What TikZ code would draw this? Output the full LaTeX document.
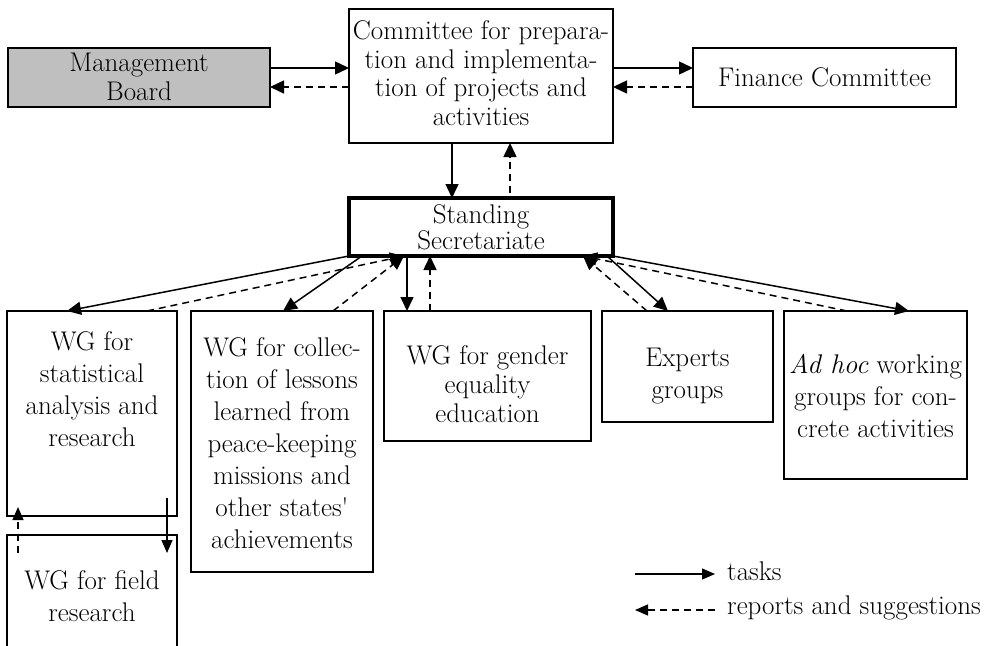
\documentclass[tikz,border=0pt]{standalone}
\usepackage{fontspec}
\usetikzlibrary{arrows.meta,calc}
\definecolor{mbgray}{RGB}{191,191,191}
\begin{document}
\begin{tikzpicture}[x=1pt,y=-1pt,
  box/.style={draw, line width=1.5pt, inner sep=0pt, outer sep=0pt, rectangle},
  txt/.style={align=center, inner sep=0pt, font=\fontsize{27}{32}\selectfont},
  tsk/.style={line width=1.5pt, -{Triangle[length=14pt,width=13pt]}},
  rep/.style={line width=1.5pt, dash pattern=on 7pt off 5pt, -{Triangle[length=14pt,width=13pt]}},
  tskl/.style={line width=1.2pt, -{Triangle[length=13pt,width=11pt]}},
  repl/.style={line width=1.2pt, dash pattern=on 7pt off 5pt, -{Triangle[length=13pt,width=11pt]}},
]
\useasboundingbox (0,0) rectangle (984,645);
% boxes
\node[box, fill=mbgray, minimum width=262pt, minimum height=59pt] (mb) at (139,77.5) {};
\node[box, minimum width=264pt, minimum height=134pt] (comm) at (481,76) {};
\node[box, minimum width=263pt, minimum height=59pt] (fin) at (824.5,77.5) {};
\node[box, line width=3.5pt, minimum width=264pt, minimum height=58pt] (std) at (481,227) {};
\node[box, minimum width=170pt, minimum height=205pt] (wgs) at (92,413.5) {};
\node[box, minimum width=170pt, minimum height=130pt] (wgf) at (92,600) {};
\node[box, minimum width=182pt, minimum height=261pt] (wgc) at (282,441.5) {};
\node[box, minimum width=207pt, minimum height=130pt] (wgg) at (487.5,376) {};
\node[box, minimum width=171pt, minimum height=111pt] (exp) at (687.5,366.5) {};
\node[box, minimum width=183pt, minimum height=168pt] (adh) at (875.5,395) {};
% texts
\node[txt, font=\fontsize{27}{29}\selectfont] (mbt) at (139,77) {Management\\Board};
\node[txt, font=\fontsize{27}{28.5}\selectfont] (commt) at (481,73) {Committee for prepara-\\tion and implementa-\\tion of projects and\\activities};
\node[txt] (fint) at (824.5,77) {Finance Committee};
\node[txt, font=\fontsize{27}{26}\selectfont] (stdt) at (481,227) {Standing\\Secretariate};
\node[txt] (wgst) at (92,389) {WG for\\statistical\\analysis and\\research};
\node[txt] (wgft) at (92,596) {WG for field\\research};
\node[txt] (wgct) at (282,443) {WG for collec-\\tion of lessons\\learned from\\peace-keeping\\missions and\\other states\textquotesingle\\achievements};
\node[txt, font=\fontsize{27}{29}\selectfont] (wggt) at (487.5,384) {WG for gender\\equality\\education};
\node[txt] (expt) at (687.5,376) {Experts\\groups};
\node[txt] (adht) at (875.5,396) {\textit{Ad hoc} working\\groups for con-\\crete activities};
% helper rows/columns
\coordinate (r1) at (0,68);
\coordinate (r2) at (0,87);
\coordinate (c1) at (452,0);
\coordinate (c2) at (510,0);
% top connectors
\draw[tsk] (mb.east |- r1) -- (comm.west |- r1);
\draw[rep] (comm.west |- r2) -- (mb.east |- r2);
\draw[tsk] (comm.east |- r1) -- (fin.west |- r1);
\draw[rep] (fin.west |- r2) -- (comm.east |- r2);
\draw[tsk] (comm.south -| c1) -- (std.north -| c1);
\draw[rep] ([yshift=5pt]std.north -| c2) -- (comm.south -| c2);
% secretariate to working groups
\draw[tsk] (std.south west) -- ([xshift=60pt]wgs.north west);
\draw[rep] ([xshift=140pt]wgs.north west) -- ([xshift=55pt]std.south west);
\draw[tsk] ([xshift=13pt]std.south west) -- ([xshift=92pt]wgc.north west);
\draw[rep] ([xshift=142pt]wgc.north west) -- ([xshift=55pt]std.south west);
\draw[tsk] ([xshift=58pt]std.south west) -- ([xshift=23pt]wgg.north west);
\draw[rep] ([xshift=46pt]wgg.north west) -- ([xshift=81pt]std.south west);
\draw[tsk] ([xshift=-6pt]std.south east) -- ([xshift=66pt]exp.north west);
\draw[rep] ([xshift=45pt]exp.north west) -- ([xshift=-30pt]std.south east);
\draw[tsk] (std.south east) -- ([xshift=125pt]adh.north west);
\draw[rep] ([xshift=63pt]adh.north west) -- ([xshift=-30pt]std.south east);
% statistical <-> field
\draw[tskl] ([xshift=-10pt,yshift=18pt]wgs.south east) -- ([xshift=-10pt,yshift=-18pt]wgf.north east);
\draw[repl] ([xshift=11pt,yshift=-18pt]wgf.north west) -- ([xshift=11pt,yshift=9pt]wgs.south west);
% legend
\coordinate (l1a) at (635,574);
\coordinate (l1b) at (715,574);
\coordinate (l2a) at (715,610);
\coordinate (l2b) at (635,610);
\draw[tskl] (l1a) -- (l1b);
\draw[repl] (l2a) -- (l2b);
\node[txt, anchor=base west] (lg1) at (727,580) {tasks};
\node[txt, anchor=base west] (lg2) at (727,614) {reports and suggestions};
\end{tikzpicture}
\end{document}
